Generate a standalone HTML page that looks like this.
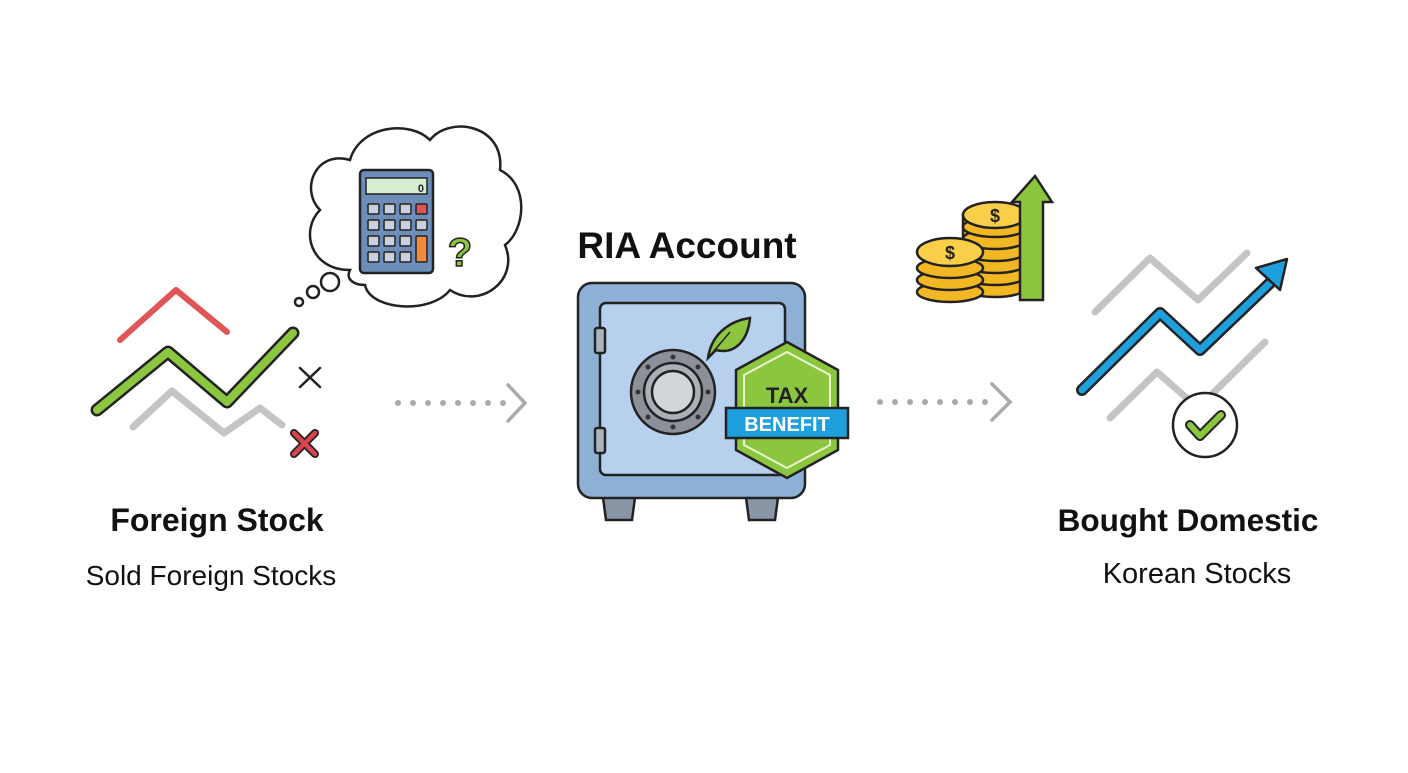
<!DOCTYPE html>
<html><head><meta charset="utf-8"><style>
body{margin:0;width:1408px;height:768px;background:#fff;overflow:hidden;font-family:"Liberation Sans","DejaVu Sans",sans-serif}
</style></head><body>
<svg width="1408" height="768" viewBox="0 0 1408 768" xmlns="http://www.w3.org/2000/svg">
<g fill="none" stroke-linecap="round" stroke-linejoin="round">
<polyline points="120,340 176,290 227,332" stroke="#e05555" stroke-width="6"/>
<polyline points="133,427 172,391 224,433 260,408 282,425" stroke="#c4c4c4" stroke-width="7"/>
<polyline points="97,410 168,352 227,402 293,333" stroke="#222" stroke-width="13"/>
<polyline points="97,410 168,352 227,402 293,333" stroke="#8cc63f" stroke-width="8"/>
<path d="M300,368 L320,387 M320,368 L300,387" stroke="#222" stroke-width="2.5"/>
<path d="M294,433 L315,454 M315,433 L294,454" stroke="#222" stroke-width="8"/>
<path d="M294,433 L315,454 M315,433 L294,454" stroke="#d9434b" stroke-width="4.5"/>
</g>
<g stroke="#222" stroke-width="2.5" fill="#fff">
<circle cx="299" cy="302" r="4"/><circle cx="313" cy="292" r="6"/><circle cx="330" cy="282" r="9"/>
<path d="M350,270 C310,270 300,230 320,210 C300,190 315,150 350,160 C360,125 410,120 430,140 C450,115 505,125 500,170 C530,185 525,230 505,245 C520,280 480,310 450,290 C430,315 370,310 365,285 C355,285 345,280 350,270 Z"/>
</g>
<rect x="360" y="170" width="73" height="103" rx="4" fill="#6b8db8" stroke="#222" stroke-width="2.5"/>
<rect x="366" y="178" width="61" height="16" fill="#d8ecd0" stroke="#222" stroke-width="1.5"/>
<text x="424" y="192" font-size="11" font-weight="bold" text-anchor="end" fill="#222">0</text>
<g fill="#c8d0dc" stroke="#222" stroke-width="1.5">
<rect x="368" y="204" width="11" height="10" rx="1"/><rect x="384" y="204" width="11" height="10" rx="1"/><rect x="400" y="204" width="11" height="10" rx="1"/><rect x="416" y="204" width="11" height="10" rx="1" fill="#e05555"/>
<rect x="368" y="220" width="11" height="10" rx="1"/><rect x="384" y="220" width="11" height="10" rx="1"/><rect x="400" y="220" width="11" height="10" rx="1"/><rect x="416" y="220" width="11" height="10" rx="1"/>
<rect x="368" y="236" width="11" height="10" rx="1"/><rect x="384" y="236" width="11" height="10" rx="1"/><rect x="400" y="236" width="11" height="10" rx="1"/><rect x="416" y="236" width="11" height="26" rx="1" fill="#f08a3c"/>
<rect x="368" y="252" width="11" height="10" rx="1"/><rect x="384" y="252" width="11" height="10" rx="1"/><rect x="400" y="252" width="11" height="10" rx="1"/>
</g>
<text x="460" y="266" font-size="40" font-weight="bold" text-anchor="middle" fill="#8cc63f" stroke="#222" stroke-width="1.5">?</text>
<g fill="#aaa">
<circle cx="398" cy="403" r="3"/><circle cx="413" cy="403" r="3"/><circle cx="428" cy="403" r="3"/><circle cx="443" cy="403" r="3"/><circle cx="458" cy="403" r="3"/><circle cx="473" cy="403" r="3"/><circle cx="488" cy="403" r="3"/><circle cx="503" cy="403" r="3"/>
<circle cx="880" cy="402" r="3"/><circle cx="895" cy="402" r="3"/><circle cx="910" cy="402" r="3"/><circle cx="925" cy="402" r="3"/><circle cx="940" cy="402" r="3"/><circle cx="955" cy="402" r="3"/><circle cx="970" cy="402" r="3"/><circle cx="985" cy="402" r="3"/>
</g>
<g fill="none" stroke="#aaa" stroke-width="3.5" stroke-linecap="round">
<polyline points="508,385 525,403 508,421"/><polyline points="992,384 1010,402 992,420"/>
</g>
<text x="687" y="258" font-size="37" font-weight="bold" text-anchor="middle" fill="#111">RIA Account</text>
<g stroke="#222" stroke-width="2.5">
<path d="M602,490 L636,490 L632,520 L606,520 Z" fill="#8a96a6"/>
<path d="M745,490 L779,490 L775,520 L749,520 Z" fill="#8a96a6"/>
<rect x="578" y="283" width="227" height="215" rx="14" fill="#8fb0d6"/>
<rect x="600" y="303" width="185" height="172" rx="6" fill="#b6d0ee"/>
<rect x="595" y="328" width="10" height="25" rx="2" fill="#aab4c0"/>
<rect x="595" y="428" width="10" height="25" rx="2" fill="#aab4c0"/>
<circle cx="673" cy="392" r="42" fill="#8c9199"/>
<circle cx="673" cy="392" r="29" fill="#aab0b8"/>
<circle cx="673" cy="392" r="21" fill="#d2d5da"/>
<path d="M708,358 C712,330 735,320 750,318 C748,340 735,355 716,350 Z" fill="#8cc63f"/>
<path d="M708,358 L730,332" fill="none" stroke-width="1.5"/>
<path d="M787,342 L838,370 L838,450 L787,478 L736,450 L736,370 Z" fill="#8cc63f"/>
<path d="M787,352 L830,375 L830,445 L787,468 L744,445 L744,375 Z" fill="none" stroke="#e8f6d0" stroke-width="2"/>
<rect x="726" y="408" width="122" height="30" fill="#1ea0dc"/>
</g>
<g fill="#333"><circle cx="673" cy="357" r="2.5"/><circle cx="673" cy="427" r="2.5"/><circle cx="638" cy="392" r="2.5"/><circle cx="708" cy="392" r="2.5"/><circle cx="648" cy="367" r="2.5"/><circle cx="698" cy="367" r="2.5"/><circle cx="648" cy="417" r="2.5"/><circle cx="698" cy="417" r="2.5"/></g>
<text x="787" y="403" font-size="22" font-weight="bold" text-anchor="middle" fill="#222">TAX</text>
<text x="787" y="431" font-size="20" font-weight="bold" text-anchor="middle" fill="#fff">BENEFIT</text>
<g stroke="#222" stroke-width="2.5" fill="#f2b824">
<rect x="963" y="215" width="64" height="72" rx="0"/>
<ellipse cx="995" cy="287" rx="32" ry="10"/><ellipse cx="995" cy="275" rx="32" ry="10"/><ellipse cx="995" cy="263" rx="32" ry="10"/><ellipse cx="995" cy="251" rx="32" ry="10"/><ellipse cx="995" cy="239" rx="32" ry="10"/><ellipse cx="995" cy="227" rx="32" ry="10"/>
<ellipse cx="995" cy="215" rx="32" ry="13" fill="#f9cf4a"/>
<ellipse cx="950" cy="292" rx="33" ry="10"/><ellipse cx="950" cy="280" rx="33" ry="10"/><ellipse cx="950" cy="268" rx="33" ry="10"/>
<ellipse cx="950" cy="252" rx="33" ry="14" fill="#f9cf4a"/>
<path d="M1020,300 L1020,202 L1012,202 L1035,176 L1052,202 L1043,202 L1043,300 Z" fill="#8cc63f"/>
</g>
<text x="995" y="222" font-size="18" font-weight="bold" text-anchor="middle" fill="#222">$</text>
<text x="950" y="259" font-size="18" font-weight="bold" text-anchor="middle" fill="#222">$</text>
<g fill="none" stroke-linecap="round" stroke-linejoin="round">
<polyline points="1095,312 1150,258 1198,300 1247,253" stroke="#c4c4c4" stroke-width="7"/>
<polyline points="1110,418 1157,372 1198,408 1265,342" stroke="#c4c4c4" stroke-width="7"/>
<polyline points="1082,390 1160,313 1200,350 1270,283" stroke="#222" stroke-width="12"/>
<polyline points="1082,390 1160,313 1200,350 1270,283" stroke="#1ea0dc" stroke-width="7"/>
</g>
<path d="M1256,268 L1287,259 L1280,290 Z" fill="#1ea0dc" stroke="#222" stroke-width="2.5" stroke-linejoin="round"/>
<circle cx="1205" cy="425" r="32" fill="#fff" stroke="#222" stroke-width="2.5"/>
<polyline points="1190,425 1200,436 1221,415" fill="none" stroke="#222" stroke-width="10" stroke-linecap="round" stroke-linejoin="round"/>
<polyline points="1190,425 1200,436 1221,415" fill="none" stroke="#8cc63f" stroke-width="6" stroke-linecap="round" stroke-linejoin="round"/>
<text x="217" y="531" font-size="32" font-weight="bold" text-anchor="middle" fill="#111">Foreign Stock</text>
<text x="211" y="585" font-size="28" text-anchor="middle" fill="#111">Sold Foreign Stocks</text>
<text x="1188" y="531" font-size="31.5" font-weight="bold" text-anchor="middle" fill="#111">Bought Domestic</text>
<text x="1197" y="583" font-size="29" text-anchor="middle" fill="#111">Korean Stocks</text>
</svg>
</body></html>
